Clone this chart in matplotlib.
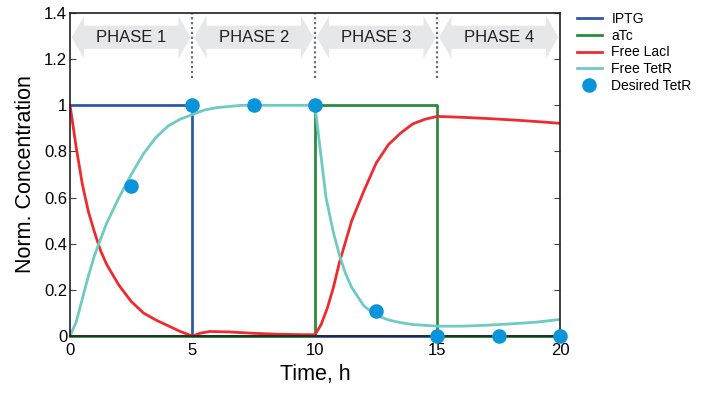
import numpy as np
import matplotlib.pyplot as plt
from matplotlib.patches import Polygon

plt.rcParams['font.family'] = ['Liberation Sans', 'DejaVu Sans']

# input steps
t_iptg = [0, 5, 5, 20]
iptg = [1, 1, 0, 0]
t_atc = [0, 10, 10, 15, 15, 20]
atc = [0, 0, 1, 1, 0, 0]

# free LacI
t_laci = [0, 0.1, 0.25, 0.5, 0.75, 1, 1.25, 1.5, 2, 2.5, 3, 3.5, 4, 4.5, 5,
          5.3, 5.7, 6.5, 7.5, 8.5, 9.5, 10,
          10.25, 10.5, 10.75, 11, 11.5, 12, 12.5, 13, 13.5, 14, 14.5, 15,
          16, 17, 18, 19, 20]
laci = [1.0, 0.93, 0.82, 0.66, 0.54, 0.45, 0.37, 0.31, 0.22, 0.15, 0.1, 0.07, 0.045, 0.02, 0.0,
        0.012, 0.02, 0.018, 0.012, 0.008, 0.006, 0.006,
        0.05, 0.12, 0.21, 0.32, 0.5, 0.63, 0.75, 0.83, 0.88, 0.92, 0.94, 0.952,
        0.948, 0.943, 0.937, 0.93, 0.922]

# free TetR
t_tetr = [0, 0.25, 0.5, 0.75, 1, 1.5, 2, 2.5, 3, 3.5, 4, 4.5, 5, 5.5, 6, 7, 8, 9, 10,
          10.2, 10.45, 10.75, 11, 11.25, 11.5, 11.75, 12, 12.5, 13, 13.5, 14,
          15, 16, 17, 18, 19, 20]
tetr = [0, 0.06, 0.16, 0.26, 0.35, 0.49, 0.6, 0.7, 0.79, 0.86, 0.91, 0.94, 0.96, 0.98, 0.99, 1.0, 1.0, 1.0, 1.0,
        0.82, 0.6, 0.45, 0.35, 0.27, 0.21, 0.17, 0.13, 0.09, 0.07, 0.058, 0.05,
        0.043, 0.043, 0.047, 0.053, 0.06, 0.072]

# desired TetR
t_des = [2.5, 5, 7.5, 10, 12.5, 15, 17.5, 20]
des = [0.65, 1.0, 1.0, 1.0, 0.11, 0.0, 0.0, 0.0]

phase_edges = [0, 5, 10, 15, 20]
phase_labels = ["PHASE 1", "PHASE 2", "PHASE 3", "PHASE 4"]

fig = plt.figure(figsize=(7.12, 3.94), dpi=100)
ax = fig.add_axes([0.0983, 0.147, 0.6882, 0.82])

ax.plot(t_iptg, iptg, color='#2f58a8', lw=2, label='IPTG', clip_on=False)
ax.plot(t_atc, atc, color='#2e8b3e', lw=2, label='aTc', clip_on=False)
ax.plot(t_laci, laci, color='#ee2b2e', lw=2, label='Free LacI')
ax.plot(t_tetr, tetr, color='#6fcac4', lw=2, label='Free TetR')
ax.plot(t_des, des, 'o', color='#0a95db', ms=10.5, mec='none',
        label='Desired TetR', clip_on=False, zorder=5)

# phase arrows
yc, hh, bh, hl, m = 1.295, 0.092, 0.05, 0.5, 0.07
for (a, b), lab in zip(zip(phase_edges[:-1], phase_edges[1:]), phase_labels):
    l, r = a + m, b - m
    pts = [(l, yc), (l + hl, yc + hh), (l + hl, yc + bh), (r - hl, yc + bh),
           (r - hl, yc + hh), (r, yc), (r - hl, yc - hh), (r - hl, yc - bh),
           (l + hl, yc - bh), (l + hl, yc - hh)]
    ax.add_patch(Polygon(pts, closed=True, fc='#e6e7e8', ec='none', zorder=1))
    ax.text((a + b) / 2, yc, lab, ha='center', va='center', fontsize=12,
            color='#231f20', zorder=2)
for x in phase_edges[1:-1]:
    ax.plot([x, x], [1.12, 1.4], color='#6d6e71', lw=1.6, ls=(0, (1, 1.2)))

ax.set_xlim(0, 20)
ax.set_ylim(0, 1.4)
ax.set_xticks([0, 5, 10, 15, 20])
ax.set_yticks([0, 0.2, 0.4, 0.6, 0.8, 1.0, 1.2, 1.4])
ax.set_yticklabels(['0', '0.2', '0.4', '0.6', '0.8', '1', '1.2', '1.4'])
ax.tick_params(direction='in', length=4, labelsize=12, right=True, top=False,
               color='#414042', pad=5)
ax.tick_params(axis='y', pad=2)
for s in ax.spines.values():
    s.set_linewidth(1.2)
    s.set_color('#231f20')
ax.set_xlabel('Time, h', fontsize=15.5, labelpad=4)
ax.set_ylabel('Norm. Concentration', fontsize=15.5, labelpad=6)

fig.legend(loc='upper left', bbox_to_anchor=(0.81, 0.97), frameon=False,
           fontsize=10, handlelength=1.8, handletextpad=0.7, labelspacing=0.2,
           borderpad=0, borderaxespad=0, markerscale=1.0)

fig.savefig('out.png', dpi=100)
